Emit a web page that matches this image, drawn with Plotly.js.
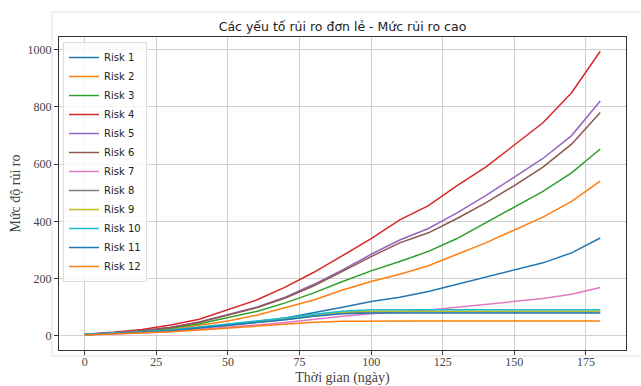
<!DOCTYPE html>
<html>
<head>
<meta charset="utf-8">
<script src="https://cdn.plot.ly/plotly-3.0.1.min.js"></script>
<style>html,body{margin:0;padding:0;background:#fff;}#chart{width:641px;height:386px;}</style>
</head>
<body>
<div id="chart"></div>
<script>
const days = [0,10,20,30,40,50,60,70,80,90,100,110,120,130,140,150,160,170,180];
const seriesNames = ["Risk 1","Risk 2","Risk 3","Risk 4","Risk 5","Risk 6","Risk 7","Risk 8","Risk 9","Risk 10","Risk 11","Risk 12"];
const risk1  = [4,7,12,18,28,38,50,62,80,100,120,135,155,180,205,230,255,290,342];
const risk2  = [4,8,14,22,36,52,72,98,125,160,190,215,245,285,325,370,415,470,541];
const risk3  = [5,9,16,26,42,63,85,115,150,190,227,260,295,340,395,450,505,570,653];
const risk4  = [5,12,22,38,58,91,125,170,222,280,340,405,455,525,590,667,745,850,995];
const risk5  = [5,10,18,30,48,73,100,135,180,230,285,335,375,430,490,555,620,700,821];
const risk6  = [5,10,18,29,47,72,98,132,175,225,277,325,360,410,465,525,590,670,781];
const risk7  = [3,6,10,15,22,30,38,46,58,68,77,84,90,100,110,120,130,145,169];
const risk8  = [4,8,13,19,27,36,47,57,70,80,84,84,84,84,84,84,84,84,84];
const risk9  = [4,8,13,19,28,37,48,58,72,82,86,86,86,86,86,86,86,86,86];
const risk10 = [5,9,14,20,30,40,50,62,75,86,91,91,91,91,91,91,91,91,91];
const risk11 = [4,7,12,18,27,36,46,56,68,77,80,80,80,80,80,80,80,80,80];
const risk12 = [3,6,10,14,20,27,34,40,47,51,52,52,52,52,52,52,52,52,52];
const allSeries = [risk1,risk2,risk3,risk4,risk5,risk6,risk7,risk8,risk9,risk10,risk11,risk12];
const colors = ["#1f77b4","#ff7f0e","#2ca02c","#d62728","#9467bd","#8c564b","#e377c2","#7f7f7f","#bcbd22","#17becf","#1f77b4","#ff7f0e"];
const xTicks = [0,25,50,75,100,125,150,175];
const yTicks = [0,200,400,600,800,1000];

const traces = seriesNames.map((n,i)=>({
  x: days, y: allSeries[i], name: n, type:'scatter', mode:'lines',
  line:{color:colors[i], width:1.5}
}));

const serif = "Liberation Serif, Times New Roman, serif";
const sans = "DejaVu Sans, sans-serif";
const layout = {
  width:641, height:386,
  margin:{l:59, r:15, t:37, b:36},
  paper_bgcolor:'#fff', plot_bgcolor:'#fff',
  title:{text:"Các yếu tố rủi ro đơn lẻ - Mức rủi ro cao", font:{family:sans, size:12.5, color:'#222'}, x:0.5, xref:'paper', xanchor:'center', y:0.93, yref:'container', yanchor:'middle'},
  xaxis:{range:[-9,189], tickvals:xTicks, ticktext:xTicks.map(String), ticks:'outside', ticklen:4, tickcolor:'#333',
    ticklabelstandoff:-3,
    showgrid:true, gridcolor:'#d0d0d0', gridwidth:1, zeroline:false, showline:true, linecolor:'#333', linewidth:1, mirror:true,
    tickfont:{family:serif, size:12, color:'#444'},
    title:{text:"Thời gian (ngày)", font:{family:serif, size:14, color:'#444'}, standoff:12}},
  yaxis:{range:[-49.75,1044.75], tickvals:yTicks, ticktext:yTicks.map(String), ticks:'outside', ticklen:4, tickcolor:'#333',
    showgrid:true, gridcolor:'#d0d0d0', gridwidth:1, zeroline:false, showline:true, linecolor:'#333', linewidth:1, mirror:true,
    tickfont:{family:serif, size:12, color:'#444'},
    title:{text:"Mức độ rủi ro", font:{family:serif, size:14, color:'#444'}, standoff:3}},
  legend:{x:0.007, y:0.984, xanchor:'left', yanchor:'top', bgcolor:'rgba(255,255,255,0.8)', bordercolor:'#ddd', borderwidth:1,
    font:{family:sans, size:10, color:'#222'}, tracegroupgap:0},
  shapes:[{type:'rect', xref:'paper', yref:'paper', x0:-0.0123, x1:1.03, y0:-0.019, y1:1.08, line:{color:'#e0e0e0', width:1}, fillcolor:'rgba(0,0,0,0)', layer:'below'}],
  showlegend:true
};
Plotly.newPlot('chart', traces, layout, {displayModeBar:false, staticPlot:true});
</script>
</body>
</html>
